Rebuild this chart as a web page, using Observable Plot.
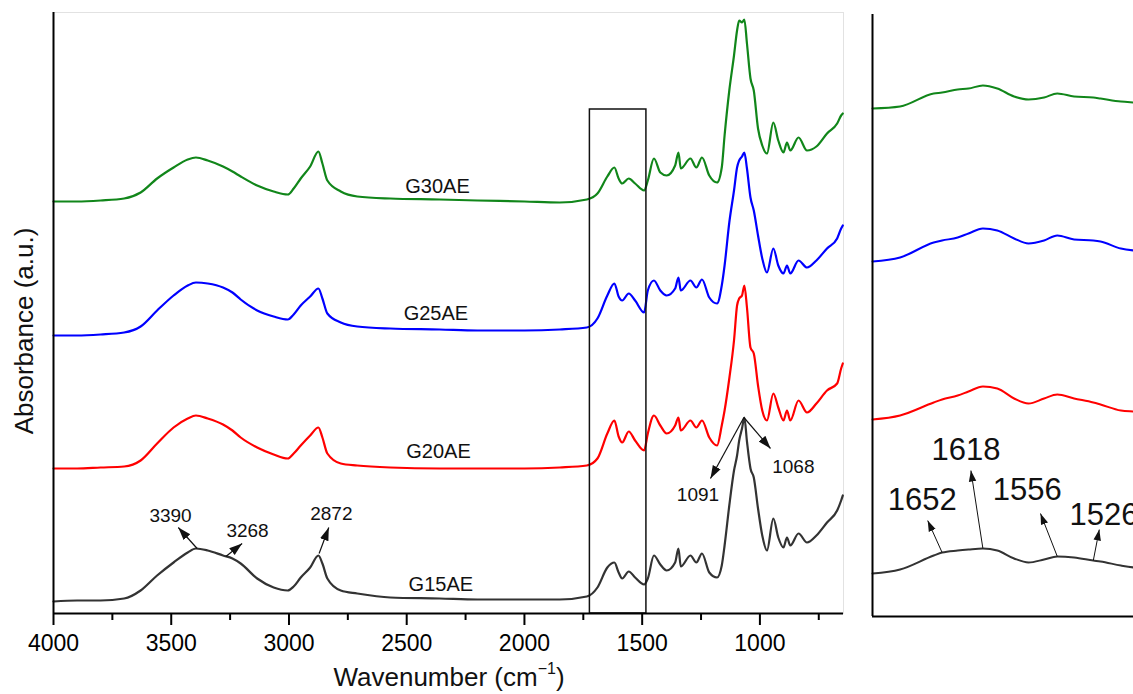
<!DOCTYPE html>
<html>
<head>
<meta charset="utf-8">
<script src="https://cdn.jsdelivr.net/npm/d3@7"></script>
<script src="https://cdn.jsdelivr.net/npm/@observablehq/plot@0.6"></script>
<style>
  html, body { margin: 0; padding: 0; background: #fff; }
  #figure { position: relative; width: 1133px; height: 694px; overflow: hidden;
            font-family: "Liberation Sans", Arial, sans-serif; }
  #figure svg { position: absolute; top: 0; }
</style>
</head>
<body>
<div id="figure"></div>
<script>
// ---------- FTIR spectra (absorbance, arbitrary units, stacked) ----------
const wavenumbers = [
  4000, 3900, 3800, 3700, 3630, 3560, 3490, 3430, 3395, 3345,
  3280, 3240, 3205, 3135, 3065, 3005, 2980, 2950, 2910, 2875,
  2858, 2837, 2780, 2710, 2570, 2360, 2200, 2000, 1850, 1735,
  1690, 1648, 1618, 1600, 1585, 1557, 1530, 1492, 1476, 1450,
  1423, 1396, 1360, 1346, 1336, 1295, 1270, 1246, 1215, 1182,
  1162, 1150, 1130, 1110, 1097, 1088, 1076, 1066, 1055, 1040,
  1026, 1008, 990, 970, 943, 922, 900, 885, 871, 836,
  800, 760, 715, 672, 655, 648
];

const g15 = [
  0.12, 0.13, 0.13, 0.15, 0.23, 0.38, 0.51, 0.61, 0.65, 0.63,
  0.58, 0.55, 0.50, 0.35, 0.26, 0.23, 0.27, 0.36, 0.46, 0.58,
  0.50, 0.35, 0.23, 0.20, 0.16, 0.15, 0.14, 0.14, 0.14, 0.17,
  0.26, 0.46, 0.51, 0.41, 0.35, 0.42, 0.36, 0.29, 0.35, 0.58,
  0.49, 0.43, 0.51, 0.65, 0.47, 0.58, 0.51, 0.60, 0.41, 0.36,
  0.48, 0.68, 1.08, 1.43, 1.58, 1.73, 1.85, 1.96, 1.72, 1.45,
  1.36, 1.05, 0.78, 0.63, 0.95, 0.76, 0.66, 0.76, 0.68, 0.80,
  0.71, 0.78, 0.91, 1.03, 1.13, 1.18
];

const g20 = [
  1.45, 1.45, 1.46, 1.47, 1.53, 1.70, 1.86, 1.95, 1.98, 1.95,
  1.89, 1.83, 1.76, 1.66, 1.59, 1.55, 1.60, 1.68, 1.78, 1.86,
  1.76, 1.60, 1.50, 1.48, 1.46, 1.45, 1.45, 1.45, 1.46, 1.48,
  1.55, 1.80, 1.93, 1.77, 1.71, 1.82, 1.73, 1.63, 1.80, 1.98,
  1.88, 1.80, 1.88, 1.96, 1.83, 1.93, 1.86, 1.93, 1.76, 1.68,
  1.88, 2.03, 2.35, 2.73, 3.08, 3.15, 3.18, 3.28, 3.06, 2.66,
  2.60, 2.28, 2.03, 1.93, 2.20, 2.06, 1.93, 2.03, 1.93, 2.13,
  2.01, 2.10, 2.23, 2.30, 2.45, 2.50
];

const g25 = [
  2.78, 2.78, 2.79, 2.81, 2.87, 3.03, 3.18, 3.28, 3.31, 3.30,
  3.26, 3.21, 3.14, 3.03, 2.97, 2.94, 2.99, 3.08, 3.17, 3.25,
  3.15, 3.00, 2.91, 2.87, 2.85, 2.84, 2.83, 2.83, 2.84, 2.86,
  2.95, 3.18, 3.30, 3.17, 3.13, 3.20, 3.13, 3.01, 3.23, 3.33,
  3.23, 3.18, 3.25, 3.36, 3.23, 3.33, 3.26, 3.34, 3.16, 3.10,
  3.28, 3.48, 3.91, 4.23, 4.46, 4.53, 4.57, 4.61, 4.45, 4.16,
  4.03, 3.78, 3.55, 3.41, 3.65, 3.48, 3.40, 3.48, 3.40, 3.53,
  3.46, 3.53, 3.65, 3.75, 3.85, 3.88
];

const g30 = [
  4.12, 4.12, 4.13, 4.15, 4.21, 4.35, 4.46, 4.54, 4.56, 4.53,
  4.47, 4.42, 4.37, 4.28, 4.22, 4.19, 4.25, 4.35, 4.47, 4.62,
  4.50, 4.33, 4.22, 4.17, 4.15, 4.14, 4.13, 4.12, 4.11, 4.14,
  4.20, 4.37, 4.46, 4.35, 4.30, 4.35, 4.30, 4.23, 4.33, 4.55,
  4.41, 4.38, 4.48, 4.61, 4.45, 4.55, 4.46, 4.56, 4.38, 4.31,
  4.46, 4.78, 5.23, 5.58, 5.83, 5.93, 5.91, 5.94, 5.70, 5.35,
  5.23, 4.85, 4.68, 4.60, 4.91, 4.73, 4.61, 4.71, 4.63, 4.76,
  4.63, 4.67, 4.80, 4.90, 4.98, 5.00
];

// Expanded amide region (1710–1480 cm-1), separately scaled
const insetWavenumbers = [1710, 1687, 1659, 1652, 1639, 1630, 1618, 1606, 1592,
                          1580, 1567, 1556, 1542, 1526, 1520, 1503, 1492, 1480];
const insetG15 = [0.43, 0.47, 0.61, 0.64, 0.66, 0.67, 0.68, 0.66, 0.58,
                  0.54, 0.57, 0.60, 0.59, 0.56, 0.55, 0.51, 0.49, 0.48];
const insetG20 = [1.97, 2.01, 2.14, 2.17, 2.21, 2.25, 2.30, 2.28, 2.18,
                  2.13, 2.18, 2.22, 2.18, 2.14, 2.12, 2.06, 2.05, 2.04];
const insetG25 = [3.55, 3.59, 3.74, 3.76, 3.79, 3.83, 3.88, 3.86, 3.78,
                  3.73, 3.76, 3.81, 3.77, 3.76, 3.75, 3.68, 3.66, 3.65];
const insetG30 = [5.08, 5.10, 5.23, 5.24, 5.27, 5.28, 5.31, 5.28, 5.20,
                  5.17, 5.19, 5.23, 5.20, 5.19, 5.18, 5.15, 5.14, 5.13];

const seriesNames = ["G15AE", "G20AE", "G25AE", "G30AE"];
const majorTicks = [4000, 3500, 3000, 2500, 2000, 1500, 1000];
const minorTicks = [3750, 3250, 2750, 2250, 1750, 1250, 750];

// ---------- styling & annotation layout ----------
const colors = {G15AE: "#333333", G20AE: "#ff0000", G25AE: "#0000ff", G30AE: "#11861a"};
const mainValues = {G15AE: g15, G20AE: g20, G25AE: g25, G30AE: g30};
const insetValues = {G15AE: insetG15, G20AE: insetG20, G25AE: insetG25, G30AE: insetG30};

const seriesLabels = [
  {text: "G30AE", x: 2369, y: 4.27},
  {text: "G25AE", x: 2376, y: 3.00},
  {text: "G20AE", x: 2365, y: 1.62},
  {text: "G15AE", x: 2355, y: 0.29}
];

const mainPeaks = [
  {label: "3390", x1: 3390, y1: 0.65, x2: 3470, y2: 0.86, lx: 3503, ly: 0.98},
  {label: "3268", x1: 3268, y1: 0.57, x2: 3199, y2: 0.70, lx: 3176, ly: 0.83},
  {label: "2872", x1: 2872, y1: 0.60, x2: 2831, y2: 0.86, lx: 2820, ly: 1.00},
  {label: "1091", x1: 1068, y1: 1.96, x2: 1210, y2: 1.35, lx: 1263, ly: 1.19},
  {label: "1068", x1: 1068, y1: 1.96, x2: 955,  y2: 1.65, lx: 858,  ly: 1.47}
];

const insetPeaks = [
  {label: "1652", x1: 1652, y1: 0.64, x2: 1664, y2: 0.96, lx: 1668.5, ly: 1.16},
  {label: "1618", x1: 1618, y1: 0.68, x2: 1628, y2: 1.46, lx: 1632, ly: 1.66},
  {label: "1556", x1: 1556, y1: 0.60, x2: 1570, y2: 1.03, lx: 1581, ly: 1.26},
  {label: "1526", x1: 1526, y1: 0.56, x2: 1521, y2: 0.87, lx: 1517, ly: 1.01}
];

const zoomBox = [{x1: 1722, x2: 1482, y1: 0, y2: 5.04}];

// filled triangular arrow head used as a line marker
function arrowHead(size) {
  return (color) => {
    const marker = d3.create("svg:marker")
      .attr("viewBox", "-10 -5 10 10")
      .attr("markerWidth", size)
      .attr("markerHeight", size)
      .attr("markerUnits", "userSpaceOnUse")
      .attr("orient", "auto")
      .attr("fill", color)
      .attr("stroke", "none");
    marker.append("path").attr("d", "M-10,-3.4L0,0L-10,3.4Z");
    return marker.node();
  };
}

const rowsOf = (xs, ys) => xs.map((w, i) => ({w, a: ys[i]}));
const font = "'Liberation Sans', Arial, sans-serif";

// ---------- main spectrum panel ----------
const main = Plot.plot({
  width: 860,
  height: 694,
  marginLeft: 53,
  marginRight: 17,
  marginTop: 12,
  marginBottom: 81,
  style: {fontFamily: font, color: "black", background: "white", overflow: "visible"},
  x: {domain: [4000, 645]},
  y: {domain: [0, 6.01], axis: null},
  marks: [
    Plot.frame({stroke: "#e2e2e2"}),
    ...seriesNames.map((name) =>
      Plot.line(rowsOf(wavenumbers, mainValues[name]), {
        x: "w", y: "a", stroke: colors[name], strokeWidth: 2.2, curve: "monotone-x"
      })),
    Plot.rect(zoomBox, {x1: "x1", x2: "x2", y1: "y1", y2: "y2",
                        fill: "none", stroke: "#111", strokeWidth: 1.5}),
    Plot.text(seriesLabels, {x: "x", y: "y", text: "text", fontSize: 20, fill: "#111"}),
    Plot.link(mainPeaks, {x1: "x1", y1: "y1", x2: "x2", y2: "y2",
                          stroke: "#111", strokeWidth: 1.2, markerEnd: arrowHead(13)}),
    Plot.text(mainPeaks, {x: "lx", y: "ly", text: "label", fontSize: 19, fill: "#111"}),
    Plot.axisX(majorTicks, {tickSize: 12, tickPadding: 9, fontSize: 23,
                            tickFormat: (d) => String(d), strokeWidth: 2, label: null}),
    Plot.axisX(minorTicks, {tickSize: 7, strokeWidth: 2, tickFormat: () => "", label: null}),
    Plot.ruleX([4000], {stroke: "black", strokeWidth: 2}),
    Plot.ruleY([0], {stroke: "black", strokeWidth: 2})
  ]
});

// axis titles
const svgMain = d3.select(main);
const xTitle = svgMain.append("text")
  .attr("x", 449).attr("y", 686)
  .attr("text-anchor", "middle")
  .attr("font-size", 26)
  .attr("fill", "#111");
xTitle.append("tspan").text("Wavenumber (cm");
xTitle.append("tspan").attr("font-size", 16).attr("dy", -12).text("\u22121");
xTitle.append("tspan").attr("dy", 12).text(")");

svgMain.append("text")
  .attr("transform", "translate(33,331) rotate(-90)")
  .attr("text-anchor", "middle")
  .attr("font-size", 26)
  .attr("fill", "#111")
  .text("Absorbance (a.u.)");

// ---------- expanded inset panel ----------
const inset = Plot.plot({
  width: 288,
  height: 694,
  marginLeft: 12,
  marginRight: 0,
  marginTop: 14,
  marginBottom: 78,
  style: {fontFamily: font, color: "black", background: "white", overflow: "visible"},
  x: {domain: [1710, 1480], axis: null},
  y: {domain: [0, 6.02], axis: null},
  marks: [
    ...seriesNames.map((name) =>
      Plot.line(rowsOf(insetWavenumbers, insetValues[name]), {
        x: "w", y: "a", stroke: colors[name], strokeWidth: 2, curve: "monotone-x"
      })),
    Plot.link(insetPeaks, {x1: "x1", y1: "y1", x2: "x2", y2: "y2",
                           stroke: "#111", strokeWidth: 1, markerEnd: arrowHead(11)}),
    Plot.text(insetPeaks, {x: "lx", y: "ly", text: "label", fontSize: 31, fill: "#111"}),
    Plot.ruleX([1710], {stroke: "black", strokeWidth: 2}),
    Plot.ruleY([0], {stroke: "black", strokeWidth: 2})
  ]
});

const figure = document.getElementById("figure");
main.style.left = "0px";
inset.style.left = "860px";
figure.appendChild(main);
figure.appendChild(inset);
</script>
</body>
</html>
